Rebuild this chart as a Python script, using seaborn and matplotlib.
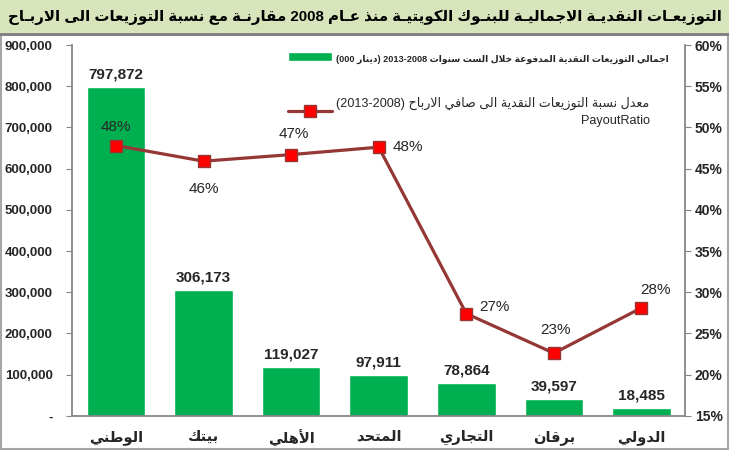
import numpy as np
import matplotlib
matplotlib.use("Agg")
import matplotlib.pyplot as plt
from matplotlib.patches import Rectangle
from matplotlib.ticker import FuncFormatter, MultipleLocator
import seaborn as sns

# --- data -------------------------------------------------------------------
banks = ["الوطني", "بيتك", "الأهلي", "المتحد", "التجاري", "برقان", "الدولي"]
total_dist = [797872, 306173, 119027, 97911, 78864, 39597, 18485]
payout_ratio = [47.8, 45.9, 46.7, 47.6, 27.4, 22.6, 28.1]

title_ar_right = "التوزيعـات النقديـة الاجماليـة للبنـوك الكويتيـة منذ عـام"
title_ar_left = "مقارنـة مع نسبة التوزيعات الى الاربـاح"
title_year = "2008"
bar_legend_ar = "اجمالي التوزيعات النقدية المدفوعة خلال الست سنوات"
bar_legend_unit = "دينار"
line_legend_ar = "معدل نسبة التوزيعات النقدية الى صافي الارباح"

# --- minimal arabic shaping (matplotlib draws glyphs left to right, no bidi) --
_BASE = [("ء", 0xFE80, 1), ("آ", 0xFE81, 2), ("أ", 0xFE83, 2), ("ؤ", 0xFE85, 2),
         ("إ", 0xFE87, 2), ("ئ", 0xFE89, 4), ("ا", 0xFE8D, 2), ("ب", 0xFE8F, 4),
         ("ة", 0xFE93, 2), ("ت", 0xFE95, 4), ("ث", 0xFE99, 4), ("ج", 0xFE9D, 4),
         ("ح", 0xFEA1, 4), ("خ", 0xFEA5, 4), ("د", 0xFEA9, 2), ("ذ", 0xFEAB, 2),
         ("ر", 0xFEAD, 2), ("ز", 0xFEAF, 2), ("س", 0xFEB1, 4), ("ش", 0xFEB5, 4),
         ("ص", 0xFEB9, 4), ("ض", 0xFEBD, 4), ("ط", 0xFEC1, 4), ("ظ", 0xFEC5, 4),
         ("ع", 0xFEC9, 4), ("غ", 0xFECD, 4), ("ف", 0xFED1, 4), ("ق", 0xFED5, 4),
         ("ك", 0xFED9, 4), ("ل", 0xFEDD, 4), ("م", 0xFEE1, 4), ("ن", 0xFEE5, 4),
         ("ه", 0xFEE9, 4), ("و", 0xFEED, 2), ("ى", 0xFEEF, 2), ("ي", 0xFEF1, 4)]
FORMS = {c: [chr(s + i) for i in range(n)] for c, s, n in _BASE}
FORMS["ـ"] = ["ـ"] * 4
LAM_ALEF = {"ا": (0xFEFB, 0xFEFC), "أ": (0xFEF7, 0xFEF8),
            "إ": (0xFEF9, 0xFEFA), "آ": (0xFEF5, 0xFEF6)}


def shape_word(word):
    items, i = [], 0
    while i < len(word):
        if word[i] == "ل" and i + 1 < len(word) and word[i + 1] in LAM_ALEF:
            items.append(("LA", word[i + 1]))
            i += 2
        else:
            items.append((word[i], None))
            i += 1

    def dual(it):
        return it[0] in FORMS and len(FORMS[it[0]]) == 4

    def joins(it):
        return it[0] == "LA" or (it[0] in FORMS and len(FORMS[it[0]]) > 1)

    out = []
    for k, it in enumerate(items):
        prev_ok = k > 0 and dual(items[k - 1])
        next_ok = k + 1 < len(items) and joins(items[k + 1])
        if it[0] == "LA":
            out.append(chr(LAM_ALEF[it[1]][1 if prev_ok else 0]))
        elif it[0] in FORMS:
            f = FORMS[it[0]]
            if len(f) == 1:
                out.append(f[0])
            elif len(f) == 2:
                out.append(f[1] if prev_ok else f[0])
            else:
                if prev_ok and next_ok:
                    out.append(f[3])
                elif prev_ok:
                    out.append(f[1])
                elif next_ok:
                    out.append(f[2])
                else:
                    out.append(f[0])
        else:
            out.append(it[0])
    return "".join(out)


def ar(text):
    # visual order for a pure arabic phrase
    return " ".join(shape_word(w)[::-1] for w in text.split(" ")[::-1])


# --- style ------------------------------------------------------------------
sns.set_style("white")
plt.rcParams["font.family"] = ["Liberation Sans", "DejaVu Sans"]

GREEN = "#00b050"
DARK_RED = "#953735"
GRAY = "#868686"

fig = plt.figure(figsize=(7.29, 4.5), dpi=100)
ax = fig.add_axes([0.099, 0.076, 0.841, 0.824])

# title band and outer frame
fig.patches.append(Rectangle((0, 0.925), 1, 0.075, transform=fig.transFigure,
                             facecolor="#d8e4bc", edgecolor="none", zorder=0))
fig.add_artist(plt.Line2D([0, 1], [0.924, 0.924], color="#7f7f7f", lw=2,
                          transform=fig.transFigure))
fig.add_artist(Rectangle((0.002, 0.002), 0.996, 0.92, transform=fig.transFigure,
                         facecolor="none", edgecolor="#a6a6a6", lw=1.5))

title = ar(title_ar_left) + " " + title_year + " " + ar(title_ar_right)
title_txt = fig.text(0.5, 0.962, title, ha="center", va="center", fontsize=12.3,
                     fontweight="bold", color="black")
# shrink the title until it spans the figure width like the original
renderer = fig.canvas.get_renderer()
while title_txt.get_window_extent(renderer).width > 0.985 * fig.bbox.width:
    title_txt.set_fontsize(title_txt.get_fontsize() - 0.1)

# bars
labels_vis = [ar(b) for b in banks]
sns.barplot(x=labels_vis, y=total_dist, color=GREEN, saturation=1, width=0.67, ax=ax)
for i, v in enumerate(total_dist):
    ax.annotate(f"{v:,}", (i, v), xytext=(0, 4), textcoords="offset points",
                ha="center", va="bottom", fontsize=11, fontweight="bold")

ax.set_ylim(0, 900000)
ax.set_xlim(-0.5, len(banks) - 0.5)
ax.yaxis.set_major_locator(MultipleLocator(100000))
ax.yaxis.set_major_formatter(FuncFormatter(lambda v, p: "-" if v == 0 else f"{int(v):,}"))
ax.set_xticks(range(len(banks)))
ax.set_xticks(np.arange(-0.5, len(banks)), minor=True)
ax.tick_params(axis="x", which="major", length=0, pad=10, labelsize=10.5)
ax.tick_params(axis="x", which="minor", length=5, color=GRAY, direction="out")
ax.tick_params(axis="y", length=4, color=GRAY, direction="out", labelsize=9.5, pad=10)
for t in ax.get_xticklabels():
    t.set_fontweight("bold")
for t in ax.get_yticklabels():
    t.set_fontweight("bold")
ax.set_xlabel("")
ax.set_ylabel("")
ax.spines["top"].set_visible(False)
ax.spines["right"].set_visible(False)
for s in ("left", "bottom"):
    ax.spines[s].set_color(GRAY)
    ax.spines[s].set_linewidth(1.3)

# payout ratio line
ax2 = ax.twinx()
xpos = np.arange(len(banks))
sns.lineplot(x=xpos, y=payout_ratio, ax=ax2, color=DARK_RED, lw=2.3, marker="s",
             markersize=8, markerfacecolor="#ff0000", markeredgecolor=DARK_RED,
             markeredgewidth=1)
offsets = [(0, 13), (0, -20), (2, 15), (21, 0), (20, 5), (1, 17), (10, 13)]
for i, (v, off) in enumerate(zip(payout_ratio, offsets)):
    ax2.annotate(f"{round(v)}%", (i, v), xytext=off, textcoords="offset points",
                 ha="center", va="center", fontsize=11)
ax2.set_ylim(15, 60)
ax2.yaxis.set_major_locator(MultipleLocator(5))
ax2.yaxis.set_major_formatter(FuncFormatter(lambda v, p: f"{int(v)}%"))
ax2.tick_params(axis="y", length=4, color=GRAY, direction="out", labelsize=10, pad=3)
for t in ax2.get_yticklabels():
    t.set_fontweight("bold")
for s in ("top", "left", "bottom"):
    ax2.spines[s].set_visible(False)
ax2.spines["right"].set_color(GRAY)
ax2.spines["right"].set_linewidth(1.3)

# legend
bar_label = "(000 " + ar(bar_legend_unit) + ") 2013-2008 " + ar(bar_legend_ar)
line_label = "(2013-2008) " + ar(line_legend_ar) + "\nPayoutRatio"
leg = ax2.legend([ax.patches[0], ax2.lines[0]], [bar_label, line_label],
                 loc="upper right", bbox_to_anchor=(0.918, 0.885),
                 bbox_transform=fig.transFigure, frameon=False,
                 borderaxespad=0, borderpad=0,
                 handlelength=3.2, handletextpad=0.3, labelspacing=2.4)
txts = leg.get_texts()
txts[0].set_fontsize(6.6)
txts[0].set_fontweight("bold")
txts[1].set_fontsize(9.1)
txts[1].set_multialignment("right")
txts[1].set_linespacing(1.5)

fig.savefig("out.png", dpi=100)
